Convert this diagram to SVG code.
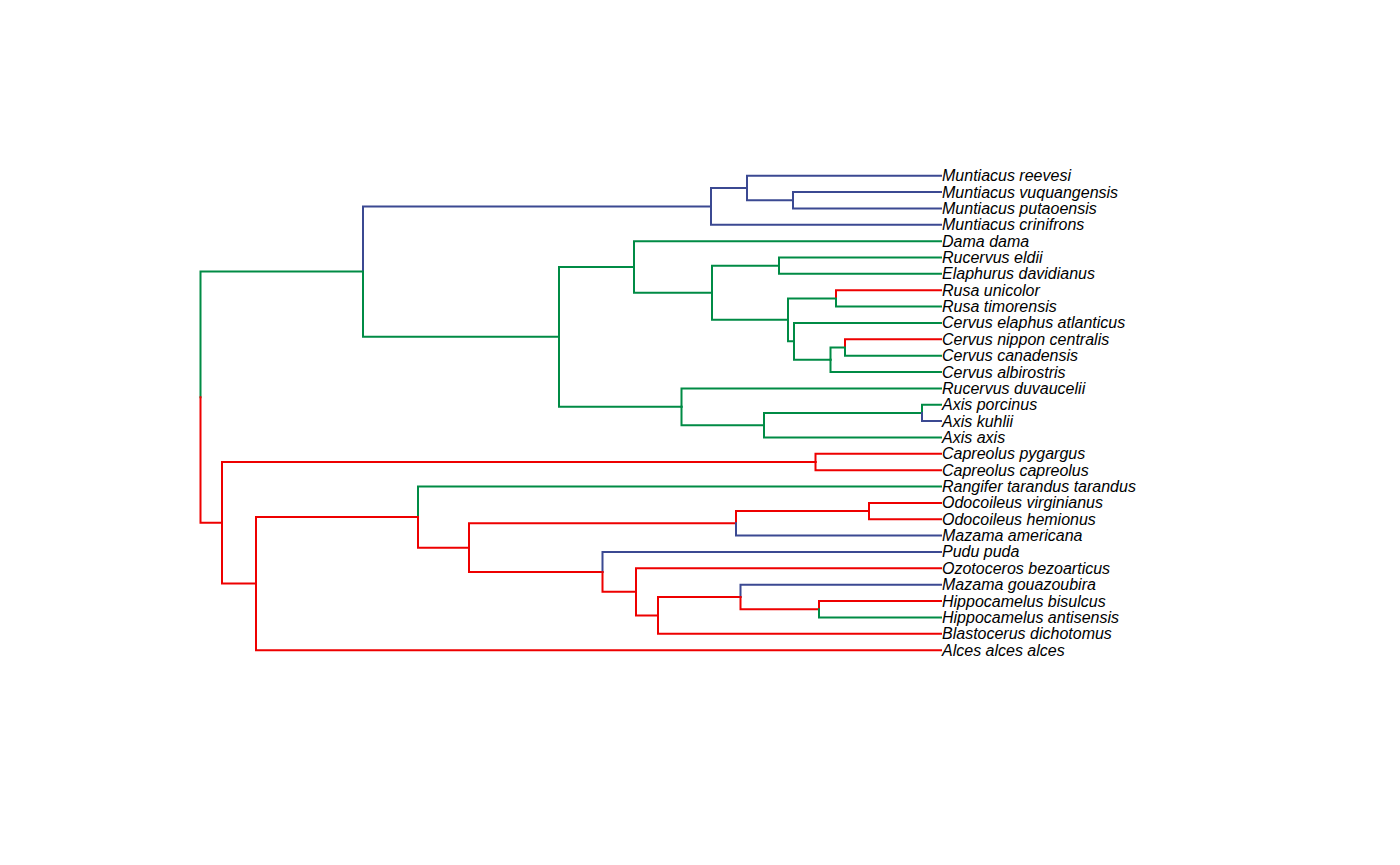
<svg xmlns="http://www.w3.org/2000/svg" width="1400" height="865" viewBox="0 0 1400 865">
<style>
.e{fill:none;stroke-width:2;stroke-linecap:square;stroke-linejoin:miter}
.g{stroke:#008B45}
.r{stroke:#EE0000}
.b{stroke:#3B4992}
.t{font-family:"Liberation Sans",Arial,sans-serif;font-style:italic;font-size:16px;fill:#000}
</style>
<rect width="1400" height="865" fill="#ffffff"/>
<g id="connectors">
<path class="e g" d="M200.5 397.21V271.62H363"/>
<path class="e r" d="M200.5 397.21V522.8H222"/>
<path class="e b" d="M363 271.62V206.38H711"/>
<path class="e g" d="M363 271.62V336.87H559"/>
<path class="e b" d="M711 206.38V187.97H747"/>
<path class="e b" d="M711 206.38V224.78H941"/>
<path class="e b" d="M747 187.97V175.7H941"/>
<path class="e b" d="M747 187.97V200.24H793"/>
<path class="e b" d="M793 200.24V192.06H941"/>
<path class="e b" d="M793 200.24V208.42H941"/>
<path class="e g" d="M559 336.87V266.96H634"/>
<path class="e g" d="M559 336.87V406.79H681.5"/>
<path class="e g" d="M634 266.96V241.14H941"/>
<path class="e g" d="M634 266.96V292.78H712"/>
<path class="e g" d="M712 292.78V265.68H779"/>
<path class="e g" d="M712 292.78V319.87H788"/>
<path class="e g" d="M779 265.68V257.5H941"/>
<path class="e g" d="M779 265.68V273.86H941"/>
<path class="e g" d="M788 319.87V298.4H836"/>
<path class="e g" d="M788 319.87V341.35H794"/>
<path class="e r" d="M836 298.4V290.22H941"/>
<path class="e g" d="M836 298.4V306.58H941"/>
<path class="e g" d="M794 341.35V322.94H941"/>
<path class="e g" d="M794 341.35V359.75H830.5"/>
<path class="e g" d="M830.5 359.75V347.48H845"/>
<path class="e g" d="M830.5 359.75V372.02H941"/>
<path class="e r" d="M845 347.48V339.3H941"/>
<path class="e g" d="M845 347.48V355.66H941"/>
<path class="e g" d="M681.5 406.79V388.38H941"/>
<path class="e g" d="M681.5 406.79V425.19H764"/>
<path class="e g" d="M764 425.19V412.92H922"/>
<path class="e g" d="M764 425.19V437.46H941"/>
<path class="e g" d="M922 412.92V404.74H941"/>
<path class="e b" d="M922 412.92V421.1H941"/>
<path class="e r" d="M222 522.8V462H815.5"/>
<path class="e r" d="M222 522.8V583.6H256"/>
<path class="e r" d="M815.5 462V453.82H941"/>
<path class="e r" d="M815.5 462V470.18H941"/>
<path class="e r" d="M256 583.6V517.09H418"/>
<path class="e r" d="M256 583.6V650.14H941"/>
<path class="e g" d="M418 517.09V486.54H941"/>
<path class="e r" d="M418 517.09V547.64H469"/>
<path class="e r" d="M469 547.64V523.35H736"/>
<path class="e r" d="M469 547.64V571.92H602.5"/>
<path class="e r" d="M736 523.35V511.08H869"/>
<path class="e b" d="M736 523.35V535.62H941"/>
<path class="e r" d="M869 511.08V502.9H941"/>
<path class="e r" d="M869 511.08V519.26H941"/>
<path class="e b" d="M602.5 571.92V551.98H941"/>
<path class="e r" d="M602.5 571.92V591.86H636"/>
<path class="e r" d="M636 591.86V568.34H941"/>
<path class="e r" d="M636 591.86V615.38H658"/>
<path class="e r" d="M658 615.38V596.97H740.5"/>
<path class="e r" d="M658 615.38V633.78H941"/>
<path class="e b" d="M740.5 596.97V584.7H941"/>
<path class="e r" d="M740.5 596.97V609.24H819"/>
<path class="e r" d="M819 609.24V601.06H941"/>
<path class="e g" d="M819 609.24V617.42H941"/>
</g>
<g id="tip-muntiacus-reevesi"><text class="t" x="942" y="181.2">Muntiacus reevesi</text></g>
<g id="tip-muntiacus-vuquangensis"><text class="t" x="942" y="197.56">Muntiacus vuquangensis</text></g>
<g id="tip-muntiacus-putaoensis"><text class="t" x="942" y="213.92">Muntiacus putaoensis</text></g>
<g id="tip-muntiacus-crinifrons"><text class="t" x="942" y="230.28">Muntiacus crinifrons</text></g>
<g id="tip-dama-dama"><text class="t" x="942" y="246.64">Dama dama</text></g>
<g id="tip-rucervus-eldii"><text class="t" x="942" y="263">Rucervus eldii</text></g>
<g id="tip-elaphurus-davidianus"><text class="t" x="942" y="279.36">Elaphurus davidianus</text></g>
<g id="tip-rusa-unicolor"><text class="t" x="942" y="295.72">Rusa unicolor</text></g>
<g id="tip-rusa-timorensis"><text class="t" x="942" y="312.08">Rusa timorensis</text></g>
<g id="tip-cervus-elaphus-atlanticus"><text class="t" x="942" y="328.44">Cervus elaphus atlanticus</text></g>
<g id="tip-cervus-nippon-centralis"><text class="t" x="942" y="344.8">Cervus nippon centralis</text></g>
<g id="tip-cervus-canadensis"><text class="t" x="942" y="361.16">Cervus canadensis</text></g>
<g id="tip-cervus-albirostris"><text class="t" x="942" y="377.52">Cervus albirostris</text></g>
<g id="tip-rucervus-duvaucelii"><text class="t" x="942" y="393.88">Rucervus duvaucelii</text></g>
<g id="tip-axis-porcinus"><text class="t" x="942" y="410.24">Axis porcinus</text></g>
<g id="tip-axis-kuhlii"><text class="t" x="942" y="426.6">Axis kuhlii</text></g>
<g id="tip-axis-axis"><text class="t" x="942" y="442.96">Axis axis</text></g>
<g id="tip-capreolus-pygargus"><text class="t" x="942" y="459.32">Capreolus pygargus</text></g>
<g id="tip-capreolus-capreolus"><text class="t" x="942" y="475.68">Capreolus capreolus</text></g>
<g id="tip-rangifer-tarandus-tarandus"><text class="t" x="942" y="492.04">Rangifer tarandus tarandus</text></g>
<g id="tip-odocoileus-virginianus"><text class="t" x="942" y="508.4">Odocoileus virginianus</text></g>
<g id="tip-odocoileus-hemionus"><text class="t" x="942" y="524.76">Odocoileus hemionus</text></g>
<g id="tip-mazama-americana"><text class="t" x="942" y="541.12">Mazama americana</text></g>
<g id="tip-pudu-puda"><text class="t" x="942" y="557.48">Pudu puda</text></g>
<g id="tip-ozotoceros-bezoarticus"><text class="t" x="942" y="573.84">Ozotoceros bezoarticus</text></g>
<g id="tip-mazama-gouazoubira"><text class="t" x="942" y="590.2">Mazama gouazoubira</text></g>
<g id="tip-hippocamelus-bisulcus"><text class="t" x="942" y="606.56">Hippocamelus bisulcus</text></g>
<g id="tip-hippocamelus-antisensis"><text class="t" x="942" y="622.92">Hippocamelus antisensis</text></g>
<g id="tip-blastocerus-dichotomus"><text class="t" x="942" y="639.28">Blastocerus dichotomus</text></g>
<g id="tip-alces-alces-alces"><text class="t" x="942" y="655.64">Alces alces alces</text></g>
</svg>
